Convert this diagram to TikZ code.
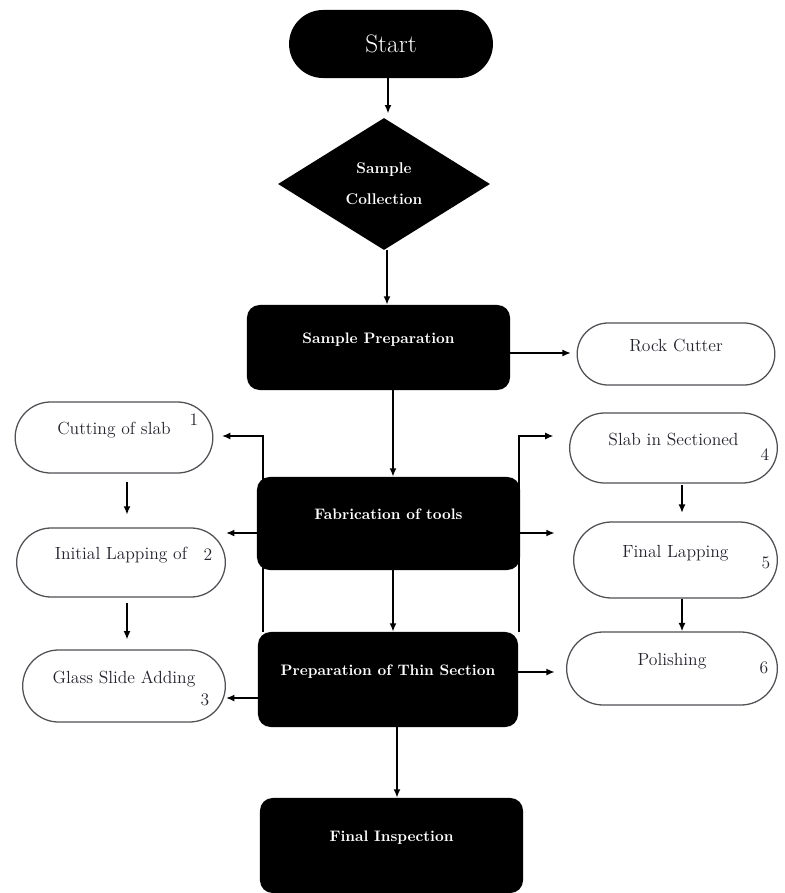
\documentclass[tikz,border=0pt]{standalone}
\usepackage{xcolor}
\usepackage{tikz}
\usetikzlibrary{arrows.meta, shapes.geometric, shapes.misc, calc}
\definecolor{boxline}{RGB}{80, 80, 85}
\definecolor{boxtext}{RGB}{35, 35, 45}

\begin{document}
\begin{tikzpicture}[
    x=0.025cm, y=-0.025cm,
    blk/.style={fill=black, rounded corners=9pt, text=white,
                font=\fontsize{10.8}{12}\selectfont\bfseries,
                text height=8pt, text depth=14pt, align=center},
    term/.style={rounded rectangle, draw=boxline, line width=0.9pt,
                 fill=white, text=boxtext,
                 font=\fontsize{12.5}{14}\selectfont,
                 text height=8pt, text depth=12pt},
    num/.style={text=boxtext, font=\fontsize{12.5}{14}\selectfont},
    arr/.style={-{Latex[length=6pt, width=5pt]}, line width=1.2pt},
  ]
    \useasboundingbox (0,0) rectangle (784,893);

    % main column
    \node[rounded rectangle, fill=black, text=white,
          minimum width=5.33cm, minimum height=1.7cm,
          font=\fontsize{18}{20}\selectfont] (start) at (391,44) {Start};
    \node[diamond, fill=black, text=white, inner sep=0pt,
          minimum width=5.3cm, minimum height=3.3cm, align=center,
          font=\fontsize{11}{13}\selectfont\bfseries]
      (coll) at (384,184) {Sample\\[9pt]Collection};
    \node[blk, minimum width=6.575cm, minimum height=2.125cm]
      (prep) at (378.5,347.5) {Sample Preparation};
    \node[blk, minimum width=6.575cm, minimum height=2.325cm]
      (fab) at (388.5,523.5) {Fabrication of tools};
    \node[blk, minimum width=6.5cm, minimum height=2.375cm]
      (thin) at (388,679.5) {Preparation of Thin Section};
    \node[blk, minimum width=6.575cm, minimum height=2.375cm]
      (insp) at (391.5,845.5) {Final Inspection};

    % side boxes
    \node[term, minimum width=5.175cm, minimum height=1.55cm]
      (rock) at (676,354) {Rock Cutter};
    \node[term, minimum width=5.175cm, minimum height=1.775cm]
      (cut) at (114,437.5) {Cutting of slab};
    \node[term, minimum width=5.45cm, minimum height=1.725cm]
      (lap) at (121,562.5) {Initial Lapping of};
    \node[term, minimum width=5.3cm, minimum height=1.8cm]
      (glass) at (124,686) {Glass Slide Adding};
    \node[term, minimum width=5.425cm, minimum height=1.75cm]
      (slab) at (673.5,448) {Slab in Sectioned};
    \node[term, minimum width=5.325cm, minimum height=1.9cm]
      (flap) at (675.5,560) {Final Lapping};
    \node[term, minimum width=5.5cm, minimum height=1.825cm]
      (pol) at (672,668.5) {Polishing};

    \node[num] (n1) at (194,420) {1};
    \node[num] (n2) at (208,555) {2};
    \node[num] (n3) at (205,700) {3};
    \node[num] (n4) at (765,455) {4};
    \node[num] (n5) at (766,563) {5};
    \node[num] (n6) at (764,668) {6};

    % main flow
    \draw[arr, shorten >=3pt] (start.south -| 388,0) -- (coll.north -| 388,0);
    \draw[arr] (coll.south -| 387,0) -- (prep.north -| 387,0);
    \draw[arr] (prep.south -| 393,0) -- (fab.north -| 393,0);
    \draw[arr] (fab.south -| 393,0) -- (thin.north -| 393,0);
    \draw[arr] (thin.south -| 397,0) -- (insp.north -| 397,0);
    \draw[arr, shorten >=4pt] (prep.east |- 0,353) -- (rock.west |- 0,353);

    % left branch
    \draw[arr, shorten >=6pt] (thin.north -| 263,0) |- (cut.east |- 0,436);
    \draw[arr] (fab.west |- 0,533) -- (lap.east |- 0,533);
    \draw[arr] (thin.west |- 0,698) -- (glass.east |- 0,698);
    \draw[arr, shorten <=6pt, shorten >=9pt] (cut.south -| 127,0) -- (lap.north -| 127,0);
    \draw[arr, shorten <=4pt, shorten >=7pt] (lap.south -| 127,0) -- (glass.north -| 127,0);

    % right branch
    \draw[arr, shorten >=11pt] (thin.north -| 519,0) |- (slab.west |- 0,436);
    \draw[arr, shorten >=13pt] (fab.east |- 0,533) -- (flap.west |- 0,533);
    \draw[arr, shorten >=8pt] (thin.east |- 0,672) -- (pol.west |- 0,672);
    \draw[arr, shorten <=1pt, shorten >=6pt] (slab.south -| 682,0) -- (flap.north -| 682,0);
    \draw[arr] (flap.south -| 682,0) -- (pol.north -| 682,0);
  \end{tikzpicture}
\end{document}
